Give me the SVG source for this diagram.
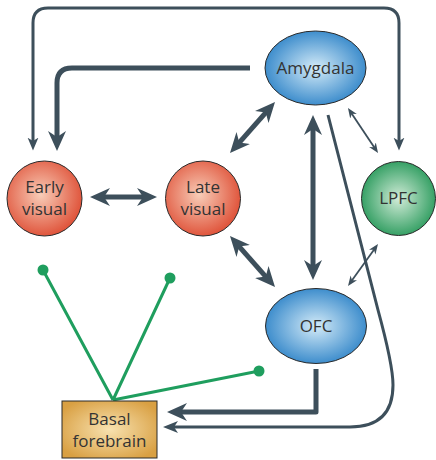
<svg xmlns="http://www.w3.org/2000/svg" width="436" height="460" viewBox="0 0 436 460">
<defs>
<style>
.lbl{font-family:"Open Sans","Noto Sans",sans-serif;font-size:17px;fill:#333;text-anchor:middle}
.node{stroke:#2a2a2a;stroke-width:1}
.c{fill:none;stroke:#3d4f5b;stroke-linejoin:round}
.thick{stroke-width:5}
.mid{stroke-width:3}
.thin{stroke-width:1.8}
.g{stroke:#1f9e5e;stroke-width:3;fill:none}
.dot{fill:#1f9e5e}
</style>
<radialGradient id="gRed" cx="0.45" cy="0.45" r="0.55">
<stop offset="0" stop-color="#f8cdb8"/><stop offset="1" stop-color="#e0563d"/>
</radialGradient>
<radialGradient id="gBlue" cx="0.5" cy="0.5" r="0.55">
<stop offset="0" stop-color="#d4ebf8"/><stop offset="1" stop-color="#2f84c8"/>
</radialGradient>
<radialGradient id="gGreen" cx="0.5" cy="0.5" r="0.55">
<stop offset="0" stop-color="#d2ecd8"/><stop offset="1" stop-color="#27995a"/>
</radialGradient>
<radialGradient id="gGold" cx="0.5" cy="0.5" r="0.6">
<stop offset="0" stop-color="#f8e2b0"/><stop offset="1" stop-color="#d9a043"/>
</radialGradient>
<marker id="aT" markerUnits="userSpaceOnUse" markerWidth="21" markerHeight="19" viewBox="0 0 21 18" refX="7" refY="9" orient="auto-start-reverse">
<path d="M0,0 L20,9 L0,18 L6,9 z" fill="#3d4f5b"/>
</marker>
<marker id="aM" markerUnits="userSpaceOnUse" markerWidth="14" markerHeight="12" viewBox="0 0 13 10" refX="4" refY="5" orient="auto-start-reverse">
<path d="M0,0 L12,5 L0,10 L3,5 z" fill="#3d4f5b"/>
</marker>
<marker id="aL" markerUnits="userSpaceOnUse" markerWidth="16" markerHeight="13" viewBox="0 0 16 12" refX="5" refY="6" orient="auto-start-reverse">
<path d="M0,0 L15,6 L0,12 L4,6 z" fill="#3d4f5b"/>
</marker>
<marker id="aS" markerUnits="userSpaceOnUse" markerWidth="11" markerHeight="9" viewBox="0 0 11 8" refX="4" refY="4" orient="auto-start-reverse">
<path d="M0,0 L10,4 L0,8 L3,4 z" fill="#3d4f5b"/>
</marker>
</defs>
<rect width="436" height="460" fill="#fff"/>
<g id="connectors">
<path class="c mid" d="M33,142 L33,23 Q33,8 48,8 L384,8 Q399,8 399,23 L399,142" marker-start="url(#aM)" marker-end="url(#aM)"/>
<path class="c thick" d="M250,68 L72,68 Q57,68 57,83 L57,138" marker-end="url(#aT)"/>
<line class="c thick" x1="103" y1="197" x2="144" y2="197" marker-start="url(#aT)" marker-end="url(#aT)"/>
<line class="c thick" x1="238.6" y1="143.3" x2="266.4" y2="111.8" marker-start="url(#aT)" marker-end="url(#aT)"/>
<line class="c thick" x1="313" y1="128" x2="313" y2="267" marker-start="url(#aT)" marker-end="url(#aT)"/>
<line class="c thick" x1="238.6" y1="245.8" x2="266.4" y2="277.3" marker-start="url(#aT)" marker-end="url(#aT)"/>
<line class="c thin" x1="351.3" y1="113" x2="374.7" y2="148" marker-start="url(#aS)" marker-end="url(#aS)"/>
<line class="c thin" x1="374.5" y1="248.9" x2="351.5" y2="281.1" marker-start="url(#aS)" marker-end="url(#aS)"/>
<path class="c thick" d="M316,369 L316,412 L180,412" marker-end="url(#aT)"/>
<path class="c mid" d="M328,115 L378,310 Q393,365 393,385 Q393,427 350,427 L173,427" marker-end="url(#aL)"/>
<path class="g" d="M113,400 L43,270 M113,400 L170,278 M113,400 L259,371"/>
<circle class="dot" cx="43" cy="270" r="5.5"/>
<circle class="dot" cx="170" cy="278" r="5.5"/>
<circle class="dot" cx="259" cy="371" r="5.5"/>
</g>
<g id="amygdala">
<ellipse class="node" cx="315.5" cy="68" rx="50.5" ry="37" fill="url(#gBlue)"/>
<text class="lbl" x="315.5" y="74">Amygdala</text>
</g>
<g id="early-visual">
<circle class="node" cx="44.5" cy="198.5" r="37.5" fill="url(#gRed)"/>
<text class="lbl" x="44.5" y="193">Early</text>
<text class="lbl" x="44.5" y="215">visual</text>
</g>
<g id="late-visual">
<circle class="node" cx="203" cy="198.5" r="37.5" fill="url(#gRed)"/>
<text class="lbl" x="203" y="193">Late</text>
<text class="lbl" x="203" y="215">visual</text>
</g>
<g id="lpfc">
<circle class="node" cx="398.5" cy="198.5" r="37" fill="url(#gGreen)"/>
<text class="lbl" x="398.5" y="204">LPFC</text>
</g>
<g id="ofc">
<ellipse class="node" cx="316" cy="326" rx="50.5" ry="37.5" fill="url(#gBlue)"/>
<text class="lbl" x="316" y="332">OFC</text>
</g>
<g id="basal-forebrain">
<rect class="node" x="62" y="401" width="95" height="57" fill="url(#gGold)"/>
<text class="lbl" x="109.5" y="425">Basal</text>
<text class="lbl" x="109.5" y="447">forebrain</text>
</g>
</svg>
